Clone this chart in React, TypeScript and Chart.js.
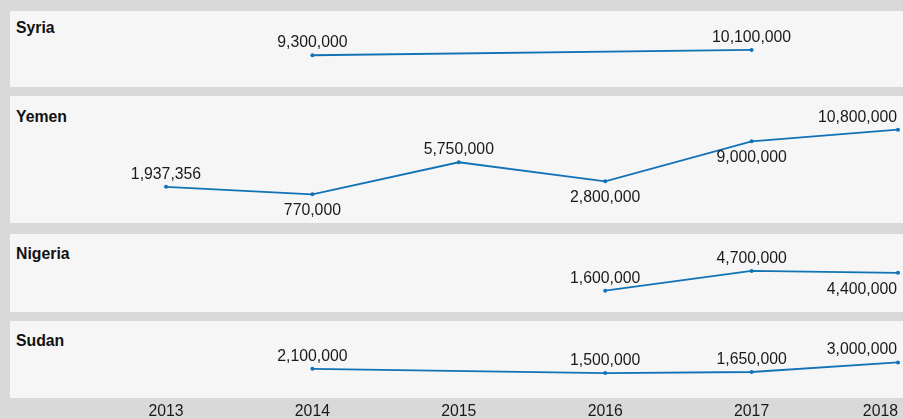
import React, { useEffect, useRef } from "react";
import { Chart, registerables } from "chart.js";

Chart.register(...registerables);

// ---------- data ----------
const years = ["2013", "2014", "2015", "2016", "2017", "2018"];
const syriaValues = [null, 9300000, null, null, 10100000, null];
const yemenValues = [1937356, 770000, 5750000, 2800000, 9000000, 10800000];
const nigeriaValues = [null, null, null, 1600000, 4700000, 4400000];
const sudanValues = [null, 2100000, null, 1500000, 1650000, 3000000];

// label placement relative to each point
const syriaLabelPos = ["", "above", "", "", "above", ""];
const yemenLabelPos = ["above", "below", "above", "below", "below", "above"];
const nigeriaLabelPos = ["", "", "", "above", "above", "below"];
const sudanLabelPos = ["", "above", "", "above", "above", "above"];

const FONT = '"Liberation Sans", Arial, Helvetica, sans-serif';
const LINE = "#1172b6";
const BG = "#d9d9d9";
const PANEL = "#f6f6f6";
const TEXT = "#1a1a1a";
const FS = 15.8;

type PanelDef = {
  name: string;
  values: (number | null)[];
  pos: string[];
  min: number;
  max: number;
  top: number;
  height: number;
  titleTop: number;
  showX: boolean;
};

const panels: PanelDef[] = [
  { name: "Syria", values: syriaValues, pos: syriaLabelPos, min: 5167000, max: 15300000, top: 11, height: 76, titleTop: 20.2, showX: false },
  { name: "Yemen", values: yemenValues, pos: yemenLabelPos, min: -3050000, max: 15410000, top: 96, height: 127, titleTop: 109.2, showX: false },
  { name: "Nigeria", values: nigeriaValues, pos: nigeriaLabelPos, min: -1120000, max: 9870000, top: 234, height: 78, titleTop: 245.9, showX: false },
  { name: "Sudan", values: sudanValues, pos: sudanLabelPos, min: -2010000, max: 8260000, top: 321, height: 77, titleTop: 332.9, showX: true },
];

const AXIS_H = 21;
const CANVAS_W = 893;

function Panel({ p }: { p: PanelDef }) {
  const ref = useRef<HTMLCanvasElement>(null);
  useEffect(() => {
    if (!ref.current) return;
    const labelPlugin = {
      id: "valueLabels",
      afterDatasetsDraw(chart: any) {
        const ctx = chart.ctx;
        const meta = chart.getDatasetMeta(0);
        ctx.save();
        ctx.font = `${FS}px ${FONT}`;
        ctx.fillStyle = TEXT;
        ctx.textBaseline = "alphabetic";
        ctx.textAlign = "left";
        p.values.forEach((v, i) => {
          if (v == null) return;
          const el = meta.data[i];
          const text = v.toLocaleString("en-US");
          const w = ctx.measureText(text).width;
          let x = el.x - w / 2;
          x = Math.min(x, chart.width - 6 - w);
          const y = p.pos[i] === "below" ? el.y + 21 : el.y - 8;
          ctx.fillText(text, x, y);
        });
        ctx.restore();
      },
    };
    const tickClampPlugin = {
      id: "tickClamp",
      beforeDraw(chart: any) {
        const s = chart.scales.x;
        if (!s || !s.options.display) return;
        const items = s.getLabelItems(chart.chartArea);
        const ctx = chart.ctx;
        items.forEach((it: any) => {
          ctx.save();
          ctx.font = it.font.string;
          const w = ctx.measureText(String(it.label)).width;
          ctx.restore();
          const tx = it.options.translation[0];
          if (tx + w / 2 > chart.width - 5) {
            it.options.textAlign = "right";
            it.options.translation = [chart.width - 5, it.options.translation[1]];
          }
        });
      },
    };
    const xScale: any = {
      display: p.showX,
      grid: { display: false, drawTicks: false },
      border: { display: false },
      ticks: {
        font: { family: FONT, size: FS },
        color: TEXT,
        padding: 4,
        maxRotation: 0,
        autoSkip: false,
      },
    };
    if (p.showX) {
      xScale.afterFit = (s: any) => {
        s.height = AXIS_H;
        s.paddingLeft = 0;
        s.paddingRight = 0;
      };
    }
    const chart = new Chart(ref.current, {
      type: "line",
      data: {
        labels: years,
        datasets: [
          {
            data: p.values,
            borderColor: LINE,
            backgroundColor: LINE,
            borderWidth: 1.8,
            pointRadius: 2,
            pointBorderWidth: 0,
            pointBackgroundColor: LINE,
            spanGaps: true,
            tension: 0,
          },
        ],
      },
      options: {
        responsive: false,
        animation: false,
        layout: { padding: { left: 156, right: 5, top: 0, bottom: 0 } },
        plugins: {
          legend: { display: false },
          tooltip: { enabled: false },
          title: { display: false },
        },
        scales: {
          x: xScale,
          y: { display: false, min: p.min, max: p.max },
        },
      },
      plugins: [labelPlugin, tickClampPlugin],
    } as any);
    return () => chart.destroy();
  }, [p]);

  const ch = p.height + (p.showX ? AXIS_H : 0);
  return (
    <>
      <div
        style={{
          position: "absolute",
          left: 10,
          top: p.top,
          width: CANVAS_W,
          height: p.height,
          background: PANEL,
        }}
      />
      <div
        style={{
          position: "absolute",
          left: 16,
          top: p.titleTop,
          font: `bold ${FS}px ${FONT}`,
          lineHeight: `${FS}px`,
          color: "#111",
          whiteSpace: "nowrap",
        }}
      >
        {p.name}
      </div>
      <canvas
        ref={ref}
        width={CANVAS_W}
        height={ch}
        style={{ position: "absolute", left: 10, top: p.top, width: CANVAS_W, height: ch, display: "block" }}
      />
    </>
  );
}

export default function App() {
  useEffect(() => {
    document.body.style.margin = "0";
    document.body.style.background = BG;
  }, []);
  return (
    <div
      style={{
        position: "absolute",
        left: 0,
        top: 0,
        width: 903,
        height: 419,
        background: BG,
        overflow: "hidden",
      }}
    >
      {panels.map((p) => (
        <Panel key={p.name} p={p} />
      ))}
    </div>
  );
}
